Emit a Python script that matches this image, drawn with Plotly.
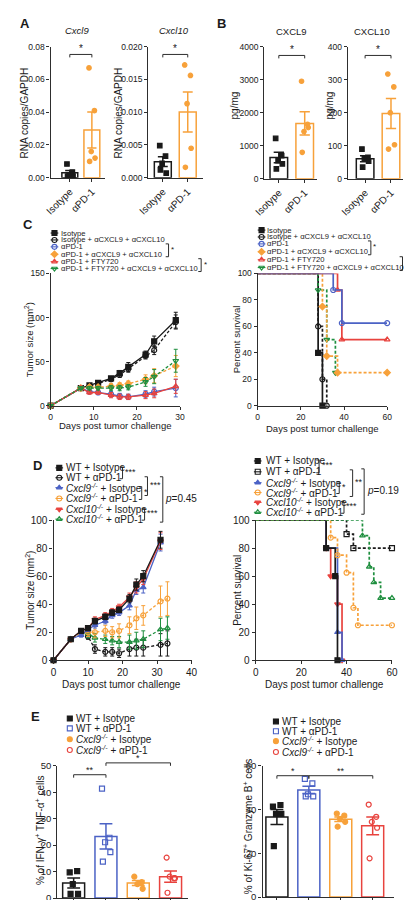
import numpy as np
import plotly.graph_objects as go

W, H = 412, 900
FONT = "Liberation Sans, Arial, sans-serif"
INK = "#1a1a1a"
AXC = "#2e2e2e"
BLACK = "#1a1a1a"
BLUE = "#4b62c5"
ORANGE = "#f7a13a"
RED = "#e8433e"
GREEN = "#1f8f3f"

# ---------------- DATA ----------------
ab_groups = ["Isotype", "αPD-1"]
a_cxcl9_iso = [0.0084, 0.0034, 0.0014, 0.0010, 0.0010]
a_cxcl9_pd1 = [0.067, 0.041, 0.016, 0.012, 0.010]
a_cxcl10_iso = [0.0049, 0.0033, 0.0022, 0.0007, 0.0012]
a_cxcl10_pd1 = [0.0172, 0.0156, 0.0113, 0.0045, 0.0016]
b_cxcl9_iso = [1220, 700, 550, 450, 300]
b_cxcl9_pd1 = [2950, 1650, 1430, 1550, 800]
b_cxcl10_iso = [90, 65, 60, 53, 35]
b_cxcl10_pd1 = [317, 278, 200, 103, 90]

c_labels = ["Isotype", "Isotype + αCXCL9 + αCXCL10", "αPD-1",
            "αPD-1 + αCXCL9 + αCXCL10", "αPD-1 + FTY720",
            "αPD-1 + FTY720 + αCXCL9 + αCXCL10"]
c_days = [0, 7, 9, 11, 14, 16, 18, 22, 24, 29]
c_iso = [0, 20, 23, 26, 31, 37, 44, 58, 73, 97]
c_iso_err = [0, 1.5, 2, 2, 2, 3, 5, 4, 6, 9]
c_iso_ab = [0, 20, 22, 25, 30, 35, 42, 57, 63, 95]
c_iso_ab_err = [0, 1.5, 2, 2, 2, 3, 4, 4, 5, 8]
c_pd1 = [0, 20, 16, 15, 13, 11, 10, 13, 16, 20]
c_pd1_err = [0, 1.5, 2, 2, 3, 3, 3, 4, 5, 10]
c_pd1_ab = [0, 20, 21, 21, 22, 23, 25, 30, 34, 45]
c_pd1_ab_err = [0, 1.5, 2, 2, 3, 3, 3, 5, 8, 12]
c_fty = [0, 20, 15, 15, 12, 10, 10, 12, 14, 22]
c_fty_err = [0, 1.5, 2, 2, 3, 3, 3, 4, 5, 8]
c_fty_ab = [0, 20, 20, 20, 20, 20, 21, 27, 33, 51]
c_fty_ab_err = [0, 1.5, 2, 2, 3, 3, 3, 5, 8, 13]

km_c_iso_t = [0, 28, 30]
km_c_iso_s = [100, 40, 0]
km_c_iso_ab_t = [0, 28, 30, 32]
km_c_iso_ab_s = [100, 60, 20, 0]
km_c_pd1_t = [0, 35, 39, 60]
km_c_pd1_s = [100, 87.5, 62.5, 62.5]
km_c_pd1_ab_t = [0, 30, 32, 37, 60]
km_c_pd1_ab_s = [100, 75, 37.5, 25, 25]
km_c_fty_t = [0, 37, 39, 60]
km_c_fty_s = [100, 87.5, 50, 50]
km_c_fty_ab_t = [0, 28, 32, 36]
km_c_fty_ab_s = [100, 87.5, 50, 25]

d_labels = ["WT + Isotype", "WT + αPD-1",
            "<i>Cxcl9<sup>-/-</sup></i> + Isotype", "<i>Cxcl9<sup>-/-</sup></i> + αPD-1",
            "<i>Cxcl10<sup>-/-</sup></i> + Isotype", "<i>Cxcl10<sup>-/-</sup></i> + αPD-1"]
d_days = [0, 5, 8, 10, 12, 15, 17, 19, 22, 24, 26, 31, 33]
d_wt_iso = [0, 15, 21, 23, 28, 31, 34, 36, 44, 54, 60, 86]
d_wt_iso_err = [0, 1, 1.5, 1.5, 2, 2, 2, 2, 3, 4, 4, 6]
d_wt_pd1 = [0, 15, 20, 17, 8, 6, 6, 5, 8, 9, 9, 11, 12]
d_wt_pd1_err = [0, 1, 1.5, 2, 3, 3, 3, 3, 5, 6, 6, 8, 9]
d_cx9_iso = [0, 15, 18, 22, 25, 28, 32, 34, 39, 50, 52, 84]
d_cx9_iso_err = [0, 1, 1.5, 1.5, 2, 2, 2, 2, 3, 3, 4, 6]
d_cx9_pd1 = [0, 15, 20, 20, 20, 21, 20, 21, 25, 30, 32, 42, 44]
d_cx9_pd1_err = [0, 1, 2, 3, 4, 4, 4, 5, 6, 8, 7, 11, 12]
d_cx10_iso = [0, 15, 21, 23, 29, 32, 35, 38, 45, 52, 58, 85]
d_cx10_iso_err = [0, 1, 1.5, 1.5, 2, 2, 2, 2, 3, 4, 4, 6]
d_cx10_pd1 = [0, 15, 20, 19, 16, 15, 14, 13, 13, 14, 15, 22, 23]
d_cx10_pd1_err = [0, 1, 2, 3, 3, 3, 3, 4, 5, 6, 6, 8, 8]

km_d_wt_iso_t = [0, 31, 35, 36]
km_d_wt_iso_s = [100, 80, 60, 0]
km_d_wt_pd1_t = [0, 40, 43, 60]
km_d_wt_pd1_s = [100, 90, 80, 80]
km_d_cx9_iso_t = [0, 31, 36, 38]
km_d_cx9_iso_s = [100, 80, 20, 0]
km_d_cx9_pd1_t = [0, 33, 36, 40, 43, 45, 60]
km_d_cx9_pd1_s = [100, 87.5, 75, 62.5, 37.5, 25, 25]
km_d_cx10_iso_t = [0, 31, 33, 36, 38]
km_d_cx10_iso_s = [100, 80, 60, 40, 0]
km_d_cx10_pd1_t = [0, 47, 50, 52, 55, 60]
km_d_cx10_pd1_s = [100, 88.9, 66.7, 55.6, 44.4, 44.4]

e_labels = ["WT + Isotype", "WT + αPD-1",
            "<i>Cxcl9<sup>-/-</sup></i> + Isotype", "<i>Cxcl9<sup>-/-</sup></i> + αPD-1"]
e_ifn_wt_iso = [9.7, 10.2, 5.3, 1.6, 1.6]
e_ifn_wt_pd1 = [41.4, 22.8, 21.1, 17.4, 13.8]
e_ifn_cx9_iso = [8.1, 6.0, 5.3, 3.5]
e_ifn_cx9_pd1 = [15.3, 7.5, 8.1, 7.5, 2.0]
e_ki_wt_iso = [41.4, 42.1, 38.0, 38.0, 23.3]
e_ki_wt_pd1 = [54, 52, 47, 46, 46]
e_ki_cx9_iso = [38.2, 37.3, 35.8, 34.4, 32.2]
e_ki_cx9_pd1 = [42.3, 36.7, 34.4, 31.7, 17.7]

# ---------------- STYLE / LAYOUT HELPERS ----------------
JIT = [-0.18, 0.16, -0.04, 0.2, -0.14]

fig = go.Figure()
layout = dict(width=W, height=H, margin=dict(l=0, r=0, t=0, b=0),
              paper_bgcolor="white", plot_bgcolor="rgba(0,0,0,0)",
              showlegend=False, barmode="overlay",
              font=dict(family=FONT, color=INK))
ann, shp = [], []


def axn(i):
    return "" if i == 1 else str(i)


def set_axes(i, xl, xr, yt, yb, xrange, yrange, xkw=None, ykw=None):
    base = dict(showline=True, linecolor=AXC, linewidth=1.4, ticks="outside",
                ticklen=3, tickwidth=1.1, tickcolor=AXC, showgrid=False,
                zeroline=False, fixedrange=True)
    layout["xaxis" + axn(i)] = dict(base, domain=[xl / W, xr / W], range=xrange,
                                    anchor="y" + axn(i), **(xkw or {}))
    layout["yaxis" + axn(i)] = dict(base, domain=[1 - yb / H, 1 - yt / H], range=yrange,
                                    anchor="x" + axn(i), **(ykw or {}))


def text(x, y, s, size, xanchor="center", yanchor="middle", angle=0, color=INK):
    ann.append(dict(x=x / W, y=1 - y / H, xref="paper", yref="paper", text=s,
                    showarrow=False, font=dict(size=size, family=FONT, color=color),
                    xanchor=xanchor, yanchor=yanchor, textangle=angle, borderpad=0))


def sig(x1, x2, y, label, size=10, tick=3):
    shp.append(dict(type="path", xref="x11", yref="y11",
                    path=f"M{x1},{y + tick} L{x1},{y} L{x2},{y} L{x2},{y + tick}",
                    line=dict(color=AXC, width=1)))
    text((x1 + x2) / 2, y + 1, label, size, yanchor="bottom")


def rbracket(x, y1, y2, label, size, tick=3):
    shp.append(dict(type="path", xref="x11", yref="y11",
                    path=f"M{x - tick},{y1} L{x},{y1} L{x},{y2} L{x - tick},{y2}",
                    line=dict(color=AXC, width=1)))
    text(x + 1.5, (y1 + y2) / 2 - 1, label, size, xanchor="left")


def ref(i):
    return dict(xaxis="x" + axn(i), yaxis="y" + axn(i))


def bar_panel(i, groups, labels, colors, symbols, xl, c0, sp, xr, yt, yb, yrange,
              ytickvals, ytickfmt, tick_size, xtick_size, bw, ms, show_xlabels=True):
    rng = [(xl - c0) / sp, (xr - c0) / sp]
    xkw = dict(tickvals=list(range(len(groups))), ticktext=labels, tickangle=-45,
               showticklabels=show_xlabels, tickfont=dict(size=xtick_size, color=INK))
    ykw = dict(tickvals=ytickvals, tickformat=ytickfmt, tickfont=dict(size=tick_size, color=INK))
    set_axes(i, xl, xr, yt, yb, rng, yrange, xkw, ykw)
    for k, vals in enumerate(groups):
        m = float(np.mean(vals))
        sem = float(np.std(vals, ddof=1) / np.sqrt(len(vals)))
        fig.add_trace(go.Bar(x=[k], y=[m], width=bw,
                             marker=dict(color="white", line=dict(color=colors[k], width=1.5)),
                             **ref(i)))
        xs = [k + JIT[j % len(JIT)] * bw for j in range(len(vals))]
        fig.add_trace(go.Scatter(x=xs, y=vals, mode="markers", cliponaxis=False,
                                 marker=dict(symbol=symbols[k], size=ms, color=colors[k],
                                             line=dict(color=colors[k], width=1.2)),
                                 **ref(i)))
        fig.add_trace(go.Scatter(x=[k], y=[m], mode="markers",
                                 marker=dict(size=1, color="rgba(0,0,0,0)"),
                                 error_y=dict(type="data", array=[sem], color=colors[k],
                                              thickness=1.5, width=bw * sp * 0.28),
                                 **ref(i)))


def growth(i, days, vals, errs, color, symbol, dash):
    n = len(vals)
    fig.add_trace(go.Scatter(x=days[:n], y=vals, mode="lines+markers", cliponaxis=False,
                             line=dict(color=color, width=1.3, dash=dash),
                             marker=dict(symbol=symbol, size=5, color=color,
                                         line=dict(color=color, width=1.2)),
                             error_y=dict(type="data", array=errs, color=color,
                                          thickness=1, width=2),
                             **ref(i)))


def km(i, t, s, color, symbol, dash):
    op = [0] + [1] * (len(t) - 1)
    fig.add_trace(go.Scatter(x=t, y=s, mode="lines+markers", cliponaxis=False,
                             line=dict(color=color, width=1.7, dash=dash, shape="hv"),
                             marker=dict(symbol=symbol, size=5, color=color, opacity=op,
                                         line=dict(color=color, width=1.2)),
                             **ref(i)))


def legend(labels, styles, xs, xt, ys, size, with_line=True):
    for label, (color, symbol, dash), y in zip(labels, styles, ys):
        if with_line:
            fig.add_trace(go.Scatter(x=[xs - 4, xs, xs + 4], y=[y] * 3, mode="lines+markers",
                                     line=dict(color=color, width=1.1),
                                     marker=dict(symbol=symbol, size=5, color=color,
                                                 opacity=[0, 1, 0],
                                                 line=dict(color=color, width=1.1)),
                                     xaxis="x11", yaxis="y11"))
        else:
            fig.add_trace(go.Scatter(x=[xs], y=[y], mode="markers",
                                     marker=dict(symbol=symbol, size=5, color=color,
                                                 line=dict(color=color, width=1.1)),
                                     xaxis="x11", yaxis="y11"))
        text(xt, y, label, size, xanchor="left")


# overlay pixel axis (for legends / brackets)
layout["xaxis11"] = dict(domain=[0, 1], range=[0, W], visible=False, anchor="y11", fixedrange=True)
layout["yaxis11"] = dict(domain=[0, 1], range=[H, 0], visible=False, anchor="x11", fixedrange=True)

# ---------------- PANEL A ----------------
text(6, 10, "<b>A</b>", 13)
ab_cols = [BLACK, ORANGE]
ab_syms = ["square", "circle"]
bar_panel(1, [a_cxcl9_iso, a_cxcl9_pd1], ab_groups, ab_cols, ab_syms,
          33, 53, 23, 90, 33, 166, [0, 0.08], [0, 0.02, 0.04, 0.06, 0.08], ".2f",
          8.5, 10, 0.72, 4.5)
text(60, 17, "<i>Cxcl9</i>", 9.5)
text(6, 100, "RNA copies/GAPDH", 10, angle=-90)
sig(53, 76, 41, "*")

bar_panel(2, [a_cxcl10_iso, a_cxcl10_pd1], ab_groups, ab_cols, ab_syms,
          135, 150, 26, 192, 33, 166, [0, 0.02], [0, 0.005, 0.01, 0.015, 0.02], ".3f",
          8.5, 10, 0.68, 4.5)
text(162, 17, "<i>Cxcl10</i>", 9.5)
text(104, 100, "RNA copies/GAPDH", 10, angle=-90)
sig(150, 176, 41, "*")

# ---------------- PANEL B ----------------
text(211, 10, "<b>B</b>", 13)
bar_panel(3, [b_cxcl9_iso, b_cxcl9_pd1], ab_groups, ab_cols, ab_syms,
          256, 271, 27, 311, 33, 167, [0, 4000], [0, 1000, 2000, 3000, 4000], "d",
          8.5, 10, 0.68, 4.5)
text(284, 18, "CXCL9", 9.5)
text(225, 93, "pg/mg", 10, angle=-90)
sig(271, 298, 42, "*")

bar_panel(4, [b_cxcl10_iso, b_cxcl10_pd1], ab_groups, ab_cols, ab_syms,
          343, 361, 27, 401, 33, 167, [0, 400], [0, 100, 200, 300, 400], "d",
          8.5, 10, 0.68, 4.5)
text(368, 18, "CXCL10", 9.5)
text(324, 93, "pg/mg", 10, angle=-90)
sig(361, 388, 42, "*")

# ---------------- PANEL C ----------------
text(9, 213, "<b>C</b>", 13)
DSH = "3px,2px"
c_styles = [(BLACK, "square", "solid"), (BLACK, "circle-open", DSH),
            (BLUE, "circle-open", "solid"), (ORANGE, "diamond", DSH),
            (RED, "triangle-up-open", "solid"), (GREEN, "triangle-down-open", DSH)]
ctk = dict(tickfont=dict(size=8.5, color=INK))
set_axes(5, 33, 168, 263, 397, [0, 30], [0, 150],
         dict(tickvals=[0, 10, 20, 30], **ctk), dict(tickvals=[0, 50, 100, 150], **ctk))
c_series = [(c_iso, c_iso_err), (c_iso_ab, c_iso_ab_err), (c_pd1, c_pd1_err),
            (c_pd1_ab, c_pd1_ab_err), (c_fty, c_fty_err), (c_fty_ab, c_fty_ab_err)]
for (v, e), (col, sym, dsh) in zip(c_series, c_styles):
    growth(5, c_days, v, e, col, sym, dsh)
text(10, 330, "Tumor size (mm<sup>2</sup>)", 9.5, angle=-90)
text(100, 417, "Days post tumor challenge", 9.5)
c_leg_y = [222, 229, 236, 243.5, 251, 258]
legend(c_labels, c_styles, 37, 43, c_leg_y, 7.6)
rbracket(156, 233, 246, "*", 8)
rbracket(190, 248, 261, "*", 8)

set_axes(6, 249, 384, 263, 397, [0, 60], [0, 100],
         dict(tickvals=[0, 20, 40, 60], **ctk), dict(tickvals=[0, 20, 40, 60, 80, 100], **ctk))
km_c = [(km_c_iso_t, km_c_iso_s), (km_c_iso_ab_t, km_c_iso_ab_s), (km_c_fty_ab_t, km_c_fty_ab_s),
        (km_c_pd1_ab_t, km_c_pd1_ab_s), (km_c_fty_t, km_c_fty_s), (km_c_pd1_t, km_c_pd1_s)]
km_c_sty = [c_styles[0], c_styles[1], c_styles[5], c_styles[3], c_styles[4], c_styles[2]]
for (t, s), (col, sym, dsh) in zip(km_c, km_c_sty):
    km(6, t, s, col, sym, dsh)
text(227, 330, "Percent survival", 9.5, angle=-90)
text(316, 420, "Days post tumor challenge", 9.5)
c2_leg_y = [219, 226, 233, 241, 249, 257]
legend(c_labels, c_styles, 253, 258, c2_leg_y, 7.6)
rbracket(367, 230, 244, "*", 8)
rbracket(400, 246, 260, "*", 8)

# ---------------- PANEL D ----------------
text(19, 458, "<b>D</b>", 13)
d_styles = [(BLACK, "square", "solid"), (BLACK, "circle-open", DSH),
            (BLUE, "triangle-up", "solid"), (ORANGE, "circle-open", DSH),
            (RED, "triangle-down", "solid"), (GREEN, "triangle-up-open", DSH)]
dtk = dict(tickfont=dict(size=10, color=INK))
set_axes(7, 36, 180, 513, 655, [0, 40], [0, 100],
         dict(tickvals=[0, 10, 20, 30, 40], **dtk), dict(tickvals=[0, 20, 40, 60, 80, 100], **dtk))
d_series = [(d_wt_iso, d_wt_iso_err), (d_wt_pd1, d_wt_pd1_err), (d_cx9_iso, d_cx9_iso_err),
            (d_cx9_pd1, d_cx9_pd1_err), (d_cx10_iso, d_cx10_iso_err), (d_cx10_pd1, d_cx10_pd1_err)]
order = [1, 5, 3, 2, 4, 0]
for k in order:
    v, e = d_series[k]
    col, sym, dsh = d_styles[k]
    growth(7, d_days, v, e, col, sym, dsh)
text(12, 584, "Tumor size (mm<sup>2</sup>)", 10, angle=-90)
text(107, 680, "Days post tumor challenge", 10)
d_leg_y = [460, 470, 480, 491, 502, 512]
legend(d_labels, d_styles, 42, 48, d_leg_y, 10)
rbracket(108, 459, 471, "***", 9)
rbracket(128, 479, 492, "*", 9)
rbracket(131, 501, 513, "***", 9)
rbracket(134, 469, 488, "***", 9)
rbracket(150, 469, 515, "<i>p</i>=0.45", 10)

km_d_sty = [(BLACK, "square", "solid"), (BLACK, "square-open", DSH),
            (BLUE, "triangle-up", "solid"), (ORANGE, "circle-open", DSH),
            (RED, "triangle-down", "solid"), (GREEN, "triangle-up-open", DSH)]
set_axes(8, 247, 389, 513, 655, [0, 60], [0, 100],
         dict(tickvals=[0, 20, 40, 60], **dtk), dict(tickvals=[0, 20, 40, 60, 80, 100], **dtk))
km_d = [(km_d_wt_iso_t, km_d_wt_iso_s), (km_d_wt_pd1_t, km_d_wt_pd1_s),
        (km_d_cx9_iso_t, km_d_cx9_iso_s), (km_d_cx9_pd1_t, km_d_cx9_pd1_s),
        (km_d_cx10_iso_t, km_d_cx10_iso_s), (km_d_cx10_pd1_t, km_d_cx10_pd1_s)]
for k in [4, 2, 0, 1, 3, 5]:
    t, s = km_d[k]
    col, sym, dsh = km_d_sty[k]
    km(8, t, s, col, sym, dsh)
text(228, 584, "Percent survival", 10, angle=-90)
text(319, 680, "Days post tumor challenge", 10)
d2_leg_y = [453, 464, 475, 485, 495, 505]
legend(d_labels, km_d_sty, 249, 257, d2_leg_y, 10)
rbracket(313, 452, 465, "***", 9)
rbracket(334, 474, 486, "*", 9)
rbracket(348, 462, 489, "**", 9)
rbracket(339, 494, 506, "***", 9)
rbracket(360, 461, 507, "<i>p</i>=0.19", 10)

# ---------------- PANEL E ----------------
text(17, 712, "<b>E</b>", 13)
e_cols = [BLACK, BLUE, ORANGE, RED]
e_syms = ["square", "square-open", "circle", "circle-open"]
bar_panel(9, [e_ifn_wt_iso, e_ifn_wt_pd1, e_ifn_cx9_iso, e_ifn_cx9_pd1], e_labels, e_cols, e_syms,
          40, 57, 33.7, 176, 762, 896, [0, 50], [0, 10, 20, 30, 40, 50], "d",
          9.5, 9, 0.68, 5, show_xlabels=False)
text(22, 827, "% of IFN-γ<sup>+</sup> TNF-α<sup>+</sup> cells", 10, angle=-90)
sig(57, 90.7, 771, "**", 9)
sig(90.7, 158, 759, "*", 9)
legend(e_labels, [(c, s, None) for c, s in zip(e_cols, e_syms)], 53, 58,
       [714, 724, 735, 746], 10, with_line=False)

bar_panel(10, [e_ki_wt_iso, e_ki_wt_pd1, e_ki_cx9_iso, e_ki_cx9_pd1], e_labels, e_cols, e_syms,
          254, 269, 33.3, 391, 762, 895, [0, 60], [0, 20, 40, 60], "d",
          9.5, 9, 0.69, 5, show_xlabels=False)
text(239, 824, "% of Ki-67<sup>+</sup> Granzyme B<sup>+</sup> cells", 10, angle=-90)
sig(269, 302.3, 772, "*", 9)
sig(302.3, 369, 772, "**", 9)
legend(e_labels, [(c, s, None) for c, s in zip(e_cols, e_syms)], 268, 273,
       [717, 727, 737, 748], 10, with_line=False)

layout["annotations"] = ann
layout["shapes"] = shp
fig.update_layout(**layout)
fig.write_html("out.html")
